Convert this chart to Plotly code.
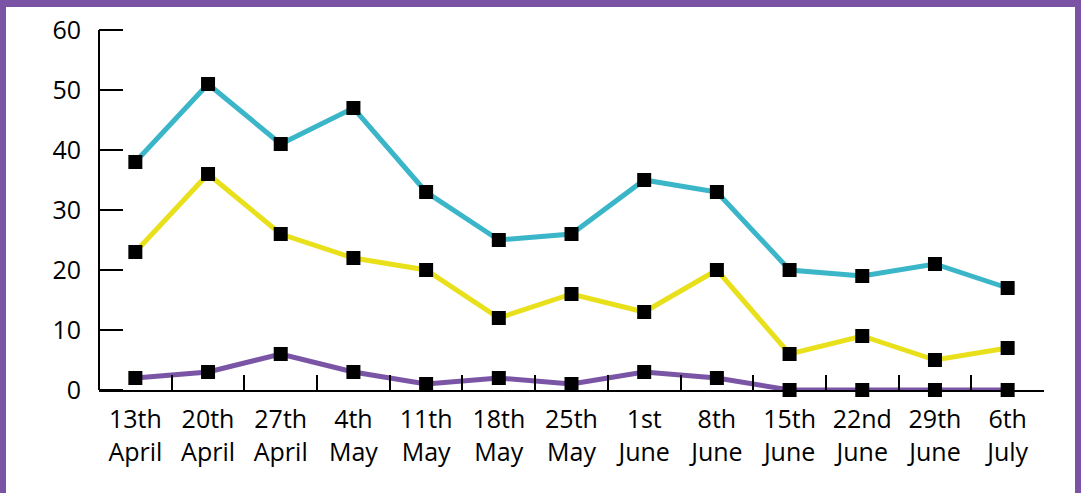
import plotly.graph_objects as go

categories = ["13th<br>April", "20th<br>April", "27th<br>April", "4th<br>May", "11th<br>May",
              "18th<br>May", "25th<br>May", "1st<br>June", "8th<br>June", "15th<br>June",
              "22nd<br>June", "29th<br>June", "6th<br>July"]
series_cyan = [38, 51, 41, 47, 33, 25, 26, 35, 33, 20, 19, 21, 17]
series_yellow = [23, 36, 26, 22, 20, 12, 16, 13, 20, 6, 9, 5, 7]
series_purple = [2, 3, 6, 3, 1, 2, 1, 3, 2, 0, 0, 0, 0]
y_ticks = [0, 10, 20, 30, 40, 50, 60]

W, H = 1081, 493
L, R, T, B = 99, 37, 30, 103
pw = W - L - R
ph = H - T - B
TICK = 24

fig = go.Figure()
for vals, col in [(series_cyan, "#3bb6c9"), (series_yellow, "#e9e01c"), (series_purple, "#7b55a5")]:
    fig.add_trace(go.Scatter(
        x=categories, y=vals, mode="lines+markers",
        line=dict(color=col, width=5),
        marker=dict(symbol="square", size=14, color="black"),
        cliponaxis=False, showlegend=False))

border = "#7a53a4"
def px_x(p):
    return (p - L) / pw
def px_y(p):
    return 1 - (p - T) / ph

fig.update_layout(
    width=W, height=H,
    margin=dict(l=L, r=R, t=T, b=B, pad=0),
    paper_bgcolor="white", plot_bgcolor="rgba(0,0,0,0)",
    font=dict(family="Open Sans", color="black", size=24),
    xaxis=dict(type="category", range=[-0.5, len(categories) - 0.5],
               tickson="boundaries", ticks="inside", ticklen=15, tickwidth=2,
               tickcolor="black", showline=True, linecolor="black", linewidth=2,
               showgrid=False, zeroline=False, tickfont=dict(size=25),
               ticklabelstandoff=6),
    # y axis placed TICK px inside the plot so its outward ticks point back to the axis line
    yaxis=dict(range=[0, 60], tickmode="array", tickvals=y_ticks,
               anchor="free", position=TICK / pw, side="left",
               ticks="outside", ticklen=TICK, tickwidth=2, tickcolor="black",
               showline=False, showgrid=False, zeroline=False,
               tickfont=dict(size=25), ticklabelstandoff=13),
    shapes=[
        dict(type="line", xref="paper", yref="paper", x0=0, x1=0, y0=0, y1=1,
             line=dict(color="black", width=2), layer="above"),
        dict(type="rect", xref="paper", yref="paper", x0=px_x(0), x1=px_x(W),
             y0=px_y(0), y1=px_y(7), fillcolor=border, line=dict(width=0), layer="above"),
        dict(type="rect", xref="paper", yref="paper", x0=px_x(0), x1=px_x(6),
             y0=px_y(0), y1=px_y(H), fillcolor=border, line=dict(width=0), layer="above"),
        dict(type="rect", xref="paper", yref="paper", x0=px_x(W - 6), x1=px_x(W),
             y0=px_y(0), y1=px_y(H), fillcolor=border, line=dict(width=0), layer="above"),
    ],
)
fig.write_html("out.html", config={"displayModeBar": False},
               post_script="document.body.style.margin='0';document.body.style.overflow='hidden';")
